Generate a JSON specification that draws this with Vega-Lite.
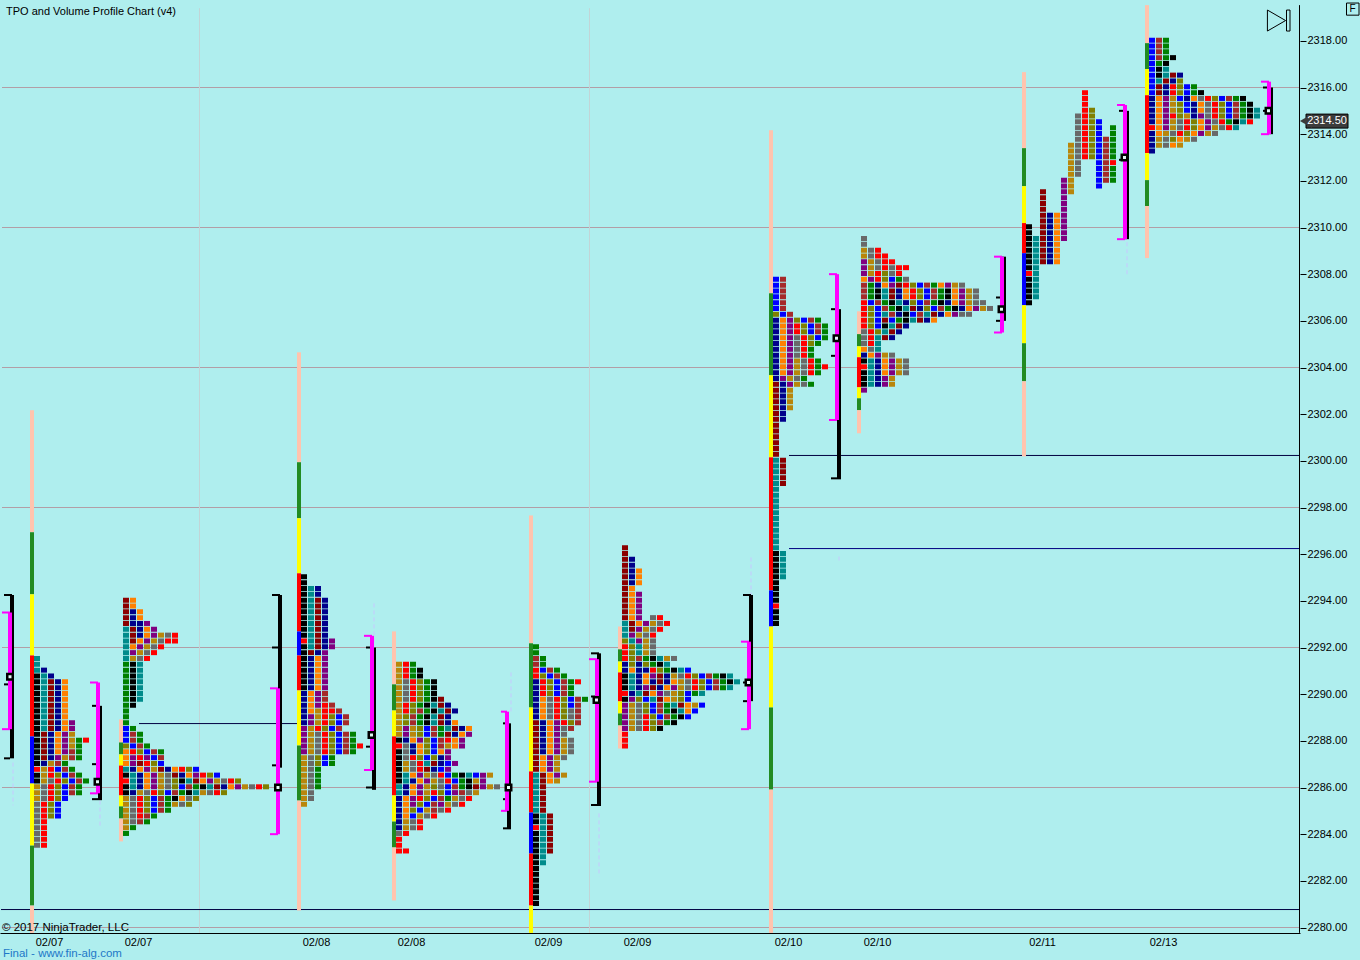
{"$schema":"https://vega.github.io/schema/vega-lite/v6.json","width":1300,"height":933,"padding":{"left":0,"top":0,"right":60,"bottom":27},"autosize":{"type":"none"},"background":"#AFEEEE","config":{"view":{"stroke":null},"font":"Liberation Sans"},
"datasets":{
"grid":[{"x":2,"x2":1299,"y":2316},{"x":2,"x2":1299,"y":2310},{"x":2,"x2":1299,"y":2304},{"x":2,"x2":1299,"y":2298},{"x":2,"x2":1299,"y":2292},{"x":2,"x2":1299,"y":2286},{"x":2,"x2":1299,"y":2280}],
"vgrid":[{"x":199.5,"y":2319.4,"e":2279.77},{"x":589.5,"y":2319.4,"e":2279.77}],
"axisline":[{"x":1299.5,"y":2319.53,"e":2279.77}],
"lines":[{"x":139,"x2":298,"y":2288.74},{"x":789,"x2":1299,"y":2300.23},{"x":1,"x2":1299,"y":2280.77}],
"lines2":[{"x":789,"x2":1299,"y":2296.24}],
"dash":[{"x":13,"y":2287.07,"e":2285.23},{"x":100,"y":2285.44,"e":2284.37},{"x":374,"y":2293.89,"e":2291.96},{"x":511,"y":2290.93,"e":2289.2},{"x":599,"y":2284.89,"e":2282.18},{"x":751,"y":2295.86,"e":2294.23},{"x":839,"y":2295.9,"e":2295.7},{"x":1127,"y":2309.37,"e":2307.87}],
"rails":[
{"x":32,"y":2302.17,"e":2296.94,"c":"s"},{"x":32,"y":2296.94,"e":2294.28,"c":"f"},{"x":32,"y":2294.28,"e":2291.66,"c":"y"},{"x":32,"y":2291.66,"e":2288.19,"c":"r"},{"x":32,"y":2288.19,"e":2286.17,"c":"b"},{"x":32,"y":2286.17,"e":2283.51,"c":"y"},{"x":32,"y":2283.51,"e":2280.94,"c":"f"},{"x":32,"y":2280.94,"e":2279.77,"c":"s"},
{"x":121,"y":2288.92,"e":2287.93,"c":"s"},{"x":121,"y":2287.93,"e":2287.42,"c":"f"},{"x":121,"y":2287.42,"e":2286.94,"c":"y"},{"x":121,"y":2286.94,"e":2285.66,"c":"r"},{"x":121,"y":2285.66,"e":2285.19,"c":"y"},{"x":121,"y":2285.19,"e":2284.67,"c":"f"},{"x":121,"y":2284.67,"e":2283.69,"c":"s"},
{"x":299,"y":2304.65,"e":2299.94,"c":"s"},{"x":299,"y":2299.94,"e":2297.54,"c":"f"},{"x":299,"y":2297.54,"e":2295.18,"c":"y"},{"x":299,"y":2295.18,"e":2292.69,"c":"r"},{"x":299,"y":2292.69,"e":2291.66,"c":"b"},{"x":299,"y":2291.66,"e":2290.16,"c":"r"},{"x":299,"y":2290.16,"e":2287.8,"c":"y"},{"x":299,"y":2287.8,"e":2285.44,"c":"f"},{"x":299,"y":2285.44,"e":2280.73,"c":"s"},
{"x":394,"y":2292.69,"e":2290.42,"c":"s"},{"x":394,"y":2290.42,"e":2289.3,"c":"f"},{"x":394,"y":2289.3,"e":2288.19,"c":"y"},{"x":394,"y":2288.19,"e":2285.66,"c":"r"},{"x":394,"y":2285.66,"e":2284.54,"c":"y"},{"x":394,"y":2284.54,"e":2283.43,"c":"f"},{"x":394,"y":2283.43,"e":2281.16,"c":"s"},
{"x":531,"y":2297.66,"e":2292.18,"c":"s"},{"x":531,"y":2292.18,"e":2289.43,"c":"f"},{"x":531,"y":2289.43,"e":2286.69,"c":"y"},{"x":531,"y":2286.69,"e":2284.93,"c":"r"},{"x":531,"y":2284.93,"e":2283.17,"c":"b"},{"x":531,"y":2283.17,"e":2280.94,"c":"r"},{"x":531,"y":2280.94,"e":2279.77,"c":"y"},
{"x":620,"y":2292.9,"e":2291.92,"c":"s"},{"x":620,"y":2291.92,"e":2291.4,"c":"f"},{"x":620,"y":2291.4,"e":2290.93,"c":"y"},{"x":620,"y":2290.93,"e":2289.69,"c":"r"},{"x":620,"y":2289.69,"e":2289.17,"c":"y"},{"x":620,"y":2289.17,"e":2288.66,"c":"f"},{"x":620,"y":2288.66,"e":2287.67,"c":"s"},
{"x":771,"y":2314.17,"e":2307.18,"c":"s"},{"x":771,"y":2307.18,"e":2303.67,"c":"f"},{"x":771,"y":2303.67,"e":2300.15,"c":"y"},{"x":771,"y":2300.15,"e":2294.45,"c":"r"},{"x":771,"y":2294.45,"e":2292.9,"c":"b"},{"x":771,"y":2292.9,"e":2289.43,"c":"y"},{"x":771,"y":2289.43,"e":2285.91,"c":"f"},{"x":771,"y":2285.91,"e":2279.77,"c":"s"},
{"x":859,"y":2306.41,"e":2305.43,"c":"s"},{"x":859,"y":2305.43,"e":2304.91,"c":"f"},{"x":859,"y":2304.91,"e":2304.44,"c":"y"},{"x":859,"y":2304.44,"e":2303.15,"c":"r"},{"x":859,"y":2303.15,"e":2302.68,"c":"y"},{"x":859,"y":2302.68,"e":2302.17,"c":"f"},{"x":859,"y":2302.17,"e":2301.18,"c":"s"},
{"x":1024,"y":2316.66,"e":2313.4,"c":"s"},{"x":1024,"y":2313.4,"e":2311.77,"c":"f"},{"x":1024,"y":2311.77,"e":2310.19,"c":"y"},{"x":1024,"y":2310.19,"e":2308.9,"c":"r"},{"x":1024,"y":2308.9,"e":2306.67,"c":"b"},{"x":1024,"y":2306.67,"e":2305.04,"c":"y"},{"x":1024,"y":2305.04,"e":2303.41,"c":"f"},{"x":1024,"y":2303.41,"e":2300.19,"c":"s"},
{"x":1147,"y":2319.53,"e":2317.9,"c":"s"},{"x":1147,"y":2317.9,"e":2316.79,"c":"f"},{"x":1147,"y":2316.79,"e":2315.67,"c":"y"},{"x":1147,"y":2315.67,"e":2313.19,"c":"r"},{"x":1147,"y":2313.19,"e":2312.03,"c":"y"},{"x":1147,"y":2312.03,"e":2310.92,"c":"f"},{"x":1147,"y":2310.92,"e":2308.69,"c":"s"}],
"cells":[
{"x":37,"y":2291.5,"e":2291,"c":"t"},{"x":37,"y":2290.75,"e":2287,"c":"k"},{"x":37,"y":2286.75,"e":2286.75,"c":"r"},{"x":37,"y":2286.5,"e":2286.25,"c":"k"},{"x":37,"y":2286,"e":2285.5,"c":"d"},{"x":37,"y":2285.25,"e":2283.5,"c":"a"},
{"x":44,"y":2291,"e":2291,"c":"n"},{"x":44,"y":2290.75,"e":2288.5,"c":"t"},{"x":44,"y":2288.25,"e":2287.25,"c":"m"},{"x":44,"y":2287,"e":2287,"c":"n"},{"x":44,"y":2286.75,"e":2286.25,"c":"d"},{"x":44,"y":2286,"e":2285.5,"c":"a"},{"x":44,"y":2285.25,"e":2283.5,"c":"r"},
{"x":51,"y":2290.75,"e":2290.75,"c":"n"},{"x":51,"y":2290.5,"e":2288.5,"c":"m"},{"x":51,"y":2288.25,"e":2287.25,"c":"n"},{"x":51,"y":2287,"e":2287,"c":"d"},{"x":51,"y":2286.75,"e":2286.5,"c":"r"},{"x":51,"y":2286.25,"e":2286.25,"c":"a"},{"x":51,"y":2286,"e":2285.5,"c":"r"},{"x":51,"y":2285.25,"e":2284.75,"c":"O"},
{"x":58,"y":2290.5,"e":2288.5,"c":"n"},{"x":58,"y":2288.25,"e":2287.5,"c":"o"},{"x":58,"y":2287.25,"e":2287.25,"c":"p"},{"x":58,"y":2287,"e":2287,"c":"B"},{"x":58,"y":2286.75,"e":2286.75,"c":"b"},{"x":58,"y":2286.5,"e":2286.5,"c":"O"},{"x":58,"y":2286.25,"e":2286.25,"c":"r"},{"x":58,"y":2286,"e":2285.5,"c":"O"},{"x":58,"y":2285.25,"e":2284.75,"c":"b"},
{"x":65,"y":2290.5,"e":2288.5,"c":"o"},{"x":65,"y":2288.25,"e":2287.5,"c":"p"},{"x":65,"y":2287.25,"e":2287.25,"c":"d"},{"x":65,"y":2287,"e":2287,"c":"g"},{"x":65,"y":2286.75,"e":2286.75,"c":"B"},{"x":65,"y":2286.5,"e":2286.5,"c":"b"},{"x":65,"y":2286.25,"e":2286.25,"c":"O"},{"x":65,"y":2286,"e":2285.5,"c":"b"},
{"x":72,"y":2288.75,"e":2288.5,"c":"p"},{"x":72,"y":2288.25,"e":2287.75,"c":"d"},{"x":72,"y":2287.5,"e":2287.25,"c":"B"},{"x":72,"y":2286.75,"e":2286.75,"c":"g"},{"x":72,"y":2286.5,"e":2286.5,"c":"B"},{"x":72,"y":2286.25,"e":2286.25,"c":"b"},{"x":72,"y":2286,"e":2285.75,"c":"B"},
{"x":79,"y":2288,"e":2287.25,"c":"g"},{"x":79,"y":2286.5,"e":2286.5,"c":"g"},{"x":79,"y":2286.25,"e":2286.25,"c":"B"},{"x":79,"y":2286,"e":2285.75,"c":"g"},
{"x":86,"y":2288,"e":2288,"c":"r"},{"x":86,"y":2286.25,"e":2286.25,"c":"g"},
{"x":126,"y":2294,"e":2293,"c":"m"},{"x":126,"y":2292.75,"e":2291.5,"c":"t"},{"x":126,"y":2291.25,"e":2288.75,"c":"g"},{"x":126,"y":2288.5,"e":2288,"c":"b"},{"x":126,"y":2287.75,"e":2287.75,"c":"O"},{"x":126,"y":2287.5,"e":2287,"c":"o"},{"x":126,"y":2286.75,"e":2286.75,"c":"t"},{"x":126,"y":2286.5,"e":2286.5,"c":"k"},{"x":126,"y":2286.25,"e":2286.25,"c":"r"},{"x":126,"y":2286,"e":2285.75,"c":"k"},{"x":126,"y":2285.5,"e":2284.25,"c":"d"},{"x":126,"y":2284,"e":2284,"c":"g"},
{"x":133,"y":2294,"e":2293.75,"c":"o"},{"x":133,"y":2293.5,"e":2293,"c":"n"},{"x":133,"y":2292.75,"e":2292.25,"c":"m"},{"x":133,"y":2292,"e":2292,"c":"o"},{"x":133,"y":2291.75,"e":2291.75,"c":"p"},{"x":133,"y":2291.5,"e":2291.5,"c":"d"},{"x":133,"y":2291.25,"e":2289.5,"c":"k"},{"x":133,"y":2288.5,"e":2288.5,"c":"g"},{"x":133,"y":2288.25,"e":2288,"c":"B"},{"x":133,"y":2287.75,"e":2287.75,"c":"b"},{"x":133,"y":2287.5,"e":2287.5,"c":"r"},{"x":133,"y":2287.25,"e":2287,"c":"p"},{"x":133,"y":2286.75,"e":2286.75,"c":"n"},{"x":133,"y":2286.5,"e":2286,"c":"t"},{"x":133,"y":2285.75,"e":2285.75,"c":"n"},{"x":133,"y":2285.5,"e":2284.5,"c":"a"},{"x":133,"y":2284.25,"e":2284.25,"c":"g"},
{"x":140,"y":2293.5,"e":2293.25,"c":"o"},{"x":140,"y":2293,"e":2292.5,"c":"n"},{"x":140,"y":2292.25,"e":2292.25,"c":"o"},{"x":140,"y":2292,"e":2292,"c":"p"},{"x":140,"y":2291.75,"e":2291.75,"c":"d"},{"x":140,"y":2291.5,"e":2291.5,"c":"a"},{"x":140,"y":2291.25,"e":2289.75,"c":"t"},{"x":140,"y":2288.25,"e":2288,"c":"g"},{"x":140,"y":2287.75,"e":2287.75,"c":"B"},{"x":140,"y":2287.5,"e":2287.5,"c":"O"},{"x":140,"y":2287.25,"e":2287.25,"c":"r"},{"x":140,"y":2287,"e":2287,"c":"m"},{"x":140,"y":2286.75,"e":2286.75,"c":"o"},{"x":140,"y":2286.5,"e":2286,"c":"n"},{"x":140,"y":2285.75,"e":2285.75,"c":"d"},{"x":140,"y":2285.5,"e":2284.75,"c":"r"},{"x":140,"y":2284.5,"e":2284.5,"c":"B"},
{"x":147,"y":2293,"e":2293,"c":"p"},{"x":147,"y":2292.75,"e":2292.5,"c":"o"},{"x":147,"y":2292.25,"e":2292.25,"c":"p"},{"x":147,"y":2292,"e":2292,"c":"d"},{"x":147,"y":2291.75,"e":2291.75,"c":"a"},{"x":147,"y":2291.5,"e":2291.5,"c":"r"},{"x":147,"y":2287.75,"e":2287.75,"c":"g"},{"x":147,"y":2287.5,"e":2287.5,"c":"b"},{"x":147,"y":2287.25,"e":2287.25,"c":"p"},{"x":147,"y":2287,"e":2287,"c":"r"},{"x":147,"y":2286.75,"e":2286.75,"c":"p"},{"x":147,"y":2286.5,"e":2286,"c":"o"},{"x":147,"y":2285.75,"e":2285.75,"c":"a"},{"x":147,"y":2285.5,"e":2285,"c":"O"},{"x":147,"y":2284.75,"e":2284.75,"c":"B"},{"x":147,"y":2284.5,"e":2284.5,"c":"g"},
{"x":154,"y":2292.75,"e":2292.5,"c":"p"},{"x":154,"y":2292.25,"e":2292.25,"c":"d"},{"x":154,"y":2292,"e":2292,"c":"a"},{"x":154,"y":2291.75,"e":2291.75,"c":"r"},{"x":154,"y":2287.5,"e":2287.5,"c":"B"},{"x":154,"y":2287.25,"e":2287.25,"c":"b"},{"x":154,"y":2287,"e":2287,"c":"O"},{"x":154,"y":2286.75,"e":2286.75,"c":"d"},{"x":154,"y":2286.5,"e":2286,"c":"p"},{"x":154,"y":2285.75,"e":2285.75,"c":"r"},{"x":154,"y":2285.5,"e":2285,"c":"b"},{"x":154,"y":2284.75,"e":2284.75,"c":"g"},
{"x":161,"y":2292.5,"e":2292.5,"c":"d"},{"x":161,"y":2292.25,"e":2292.25,"c":"a"},{"x":161,"y":2292,"e":2292,"c":"r"},{"x":161,"y":2287.5,"e":2287.5,"c":"g"},{"x":161,"y":2287.25,"e":2287.25,"c":"B"},{"x":161,"y":2287,"e":2287,"c":"b"},{"x":161,"y":2286.75,"e":2286.75,"c":"m"},{"x":161,"y":2286.5,"e":2286,"c":"d"},{"x":161,"y":2285.75,"e":2285.75,"c":"O"},{"x":161,"y":2285.5,"e":2285,"c":"B"},
{"x":168,"y":2292.5,"e":2292.5,"c":"a"},{"x":168,"y":2292.25,"e":2292.25,"c":"r"},{"x":168,"y":2286.75,"e":2286.75,"c":"n"},{"x":168,"y":2286.5,"e":2286,"c":"a"},{"x":168,"y":2285.75,"e":2285.75,"c":"b"},{"x":168,"y":2285.5,"e":2285,"c":"g"},
{"x":175,"y":2292.5,"e":2292.25,"c":"r"},{"x":175,"y":2286.75,"e":2286.75,"c":"o"},{"x":175,"y":2286.5,"e":2286.5,"c":"m"},{"x":175,"y":2286.25,"e":2286,"c":"O"},{"x":175,"y":2285.75,"e":2285.75,"c":"B"},{"x":175,"y":2285.5,"e":2285.5,"c":"k"},{"x":175,"y":2285.25,"e":2285.25,"c":"d"},
{"x":182,"y":2286.75,"e":2286.75,"c":"r"},{"x":182,"y":2286.5,"e":2286.5,"c":"n"},{"x":182,"y":2286.25,"e":2286.25,"c":"k"},{"x":182,"y":2286,"e":2286,"c":"b"},{"x":182,"y":2285.75,"e":2285.75,"c":"g"},{"x":182,"y":2285.5,"e":2285.5,"c":"o"},{"x":182,"y":2285.25,"e":2285.25,"c":"a"},
{"x":189,"y":2286.75,"e":2286.75,"c":"O"},{"x":189,"y":2286.5,"e":2286.5,"c":"o"},{"x":189,"y":2286.25,"e":2286.25,"c":"t"},{"x":189,"y":2286,"e":2286,"c":"B"},{"x":189,"y":2285.75,"e":2285.75,"c":"k"},{"x":189,"y":2285.5,"e":2285.5,"c":"a"},{"x":189,"y":2285.25,"e":2285.25,"c":"O"},
{"x":196,"y":2286.75,"e":2286.75,"c":"b"},{"x":196,"y":2286.5,"e":2286.5,"c":"p"},{"x":196,"y":2286.25,"e":2286.25,"c":"m"},{"x":196,"y":2286,"e":2286,"c":"g"},{"x":196,"y":2285.75,"e":2285.75,"c":"t"},{"x":196,"y":2285.5,"e":2285.5,"c":"O"},
{"x":203,"y":2286.5,"e":2286.5,"c":"r"},{"x":203,"y":2286.25,"e":2286.25,"c":"o"},{"x":203,"y":2286,"e":2286,"c":"k"},{"x":203,"y":2285.75,"e":2285.75,"c":"d"},
{"x":210,"y":2286.5,"e":2286.5,"c":"O"},{"x":210,"y":2286.25,"e":2286.25,"c":"p"},{"x":210,"y":2286,"e":2286,"c":"t"},{"x":210,"y":2285.75,"e":2285.75,"c":"a"},
{"x":217,"y":2286.5,"e":2286.5,"c":"b"},{"x":217,"y":2286.25,"e":2286.25,"c":"d"},{"x":217,"y":2286,"e":2286,"c":"m"},{"x":217,"y":2285.75,"e":2285.75,"c":"r"},
{"x":224,"y":2286.25,"e":2286.25,"c":"a"},{"x":224,"y":2286,"e":2286,"c":"n"},{"x":224,"y":2285.75,"e":2285.75,"c":"O"},
{"x":231,"y":2286.25,"e":2286.25,"c":"r"},{"x":231,"y":2286,"e":2286,"c":"o"},{"x":238,"y":2286.25,"e":2286.25,"c":"O"},{"x":238,"y":2286,"e":2286,"c":"p"},{"x":245,"y":2286,"e":2286,"c":"d"},{"x":252,"y":2286,"e":2286,"c":"a"},{"x":259,"y":2286,"e":2286,"c":"r"},{"x":266,"y":2286,"e":2286,"c":"O"},
{"x":304,"y":2295,"e":2292.5,"c":"k"},{"x":304,"y":2292.25,"e":2292.25,"c":"r"},{"x":304,"y":2292,"e":2290.25,"c":"k"},{"x":304,"y":2290,"e":2288.75,"c":"n"},{"x":304,"y":2288.5,"e":2287.5,"c":"p"},{"x":304,"y":2287.25,"e":2285.25,"c":"d"},
{"x":311,"y":2294.5,"e":2292,"c":"t"},{"x":311,"y":2291.75,"e":2291.75,"c":"m"},{"x":311,"y":2291.5,"e":2290.25,"c":"n"},{"x":311,"y":2290,"e":2289.25,"c":"o"},{"x":311,"y":2289,"e":2288.75,"c":"p"},{"x":311,"y":2288.5,"e":2287.5,"c":"d"},{"x":311,"y":2287.25,"e":2285.5,"c":"a"},
{"x":318,"y":2294.5,"e":2294.25,"c":"n"},{"x":318,"y":2294,"e":2292,"c":"m"},{"x":318,"y":2291.75,"e":2291.75,"c":"n"},{"x":318,"y":2291.5,"e":2290.25,"c":"o"},{"x":318,"y":2290,"e":2289.5,"c":"p"},{"x":318,"y":2289.25,"e":2288.75,"c":"d"},{"x":318,"y":2288.5,"e":2288.5,"c":"r"},{"x":318,"y":2288.25,"e":2287.5,"c":"a"},{"x":318,"y":2287.25,"e":2287,"c":"O"},{"x":318,"y":2286.75,"e":2286,"c":"g"},
{"x":325,"y":2294,"e":2292,"c":"n"},{"x":325,"y":2291.75,"e":2290.25,"c":"p"},{"x":325,"y":2290,"e":2289.75,"c":"B"},{"x":325,"y":2289.5,"e":2288.75,"c":"r"},{"x":325,"y":2288.5,"e":2288.5,"c":"O"},{"x":325,"y":2288.25,"e":2287.5,"c":"r"},{"x":325,"y":2287.25,"e":2287,"c":"b"},
{"x":332,"y":2292.25,"e":2292,"c":"p"},{"x":332,"y":2289.5,"e":2289.5,"c":"B"},{"x":332,"y":2289.25,"e":2289.25,"c":"r"},{"x":332,"y":2289,"e":2288.75,"c":"O"},{"x":332,"y":2288.5,"e":2288.5,"c":"b"},{"x":332,"y":2288.25,"e":2287.5,"c":"O"},{"x":332,"y":2287.25,"e":2287,"c":"g"},
{"x":339,"y":2289.25,"e":2289.25,"c":"B"},{"x":339,"y":2289,"e":2288.75,"c":"b"},{"x":339,"y":2288.5,"e":2288.5,"c":"B"},{"x":339,"y":2288.25,"e":2287.5,"c":"b"},
{"x":346,"y":2289,"e":2288.75,"c":"B"},{"x":346,"y":2288.25,"e":2287.5,"c":"B"},{"x":353,"y":2288.25,"e":2287.5,"c":"g"},{"x":360,"y":2287.75,"e":2287.75,"c":"r"},
{"x":399,"y":2291.25,"e":2288.25,"c":"d"},{"x":399,"y":2288,"e":2288,"c":"k"},{"x":399,"y":2287.75,"e":2287.75,"c":"r"},{"x":399,"y":2287.5,"e":2286.25,"c":"k"},{"x":399,"y":2286,"e":2285.75,"c":"t"},{"x":399,"y":2285.5,"e":2284.25,"c":"n"},{"x":399,"y":2284,"e":2284,"c":"a"},{"x":399,"y":2283.75,"e":2283.25,"c":"r"},
{"x":406,"y":2291.25,"e":2290.75,"c":"r"},{"x":406,"y":2290.5,"e":2289.75,"c":"a"},{"x":406,"y":2289.5,"e":2289.25,"c":"r"},{"x":406,"y":2289,"e":2288.75,"c":"O"},{"x":406,"y":2288.5,"e":2288.25,"c":"p"},{"x":406,"y":2288,"e":2288,"c":"n"},{"x":406,"y":2287.75,"e":2287.25,"c":"a"},{"x":406,"y":2287,"e":2286.75,"c":"d"},{"x":406,"y":2286.5,"e":2286.25,"c":"t"},{"x":406,"y":2286,"e":2285.75,"c":"n"},{"x":406,"y":2285.5,"e":2284.75,"c":"o"},{"x":406,"y":2284.5,"e":2284.25,"c":"d"},{"x":406,"y":2284,"e":2284,"c":"r"},{"x":406,"y":2283.25,"e":2283.25,"c":"r"},
{"x":413,"y":2291.25,"e":2290.75,"c":"g"},{"x":413,"y":2290.5,"e":2289.75,"c":"r"},{"x":413,"y":2289.5,"e":2289.25,"c":"O"},{"x":413,"y":2289,"e":2288.75,"c":"B"},{"x":413,"y":2288.5,"e":2288.25,"c":"d"},{"x":413,"y":2288,"e":2288,"c":"o"},{"x":413,"y":2287.75,"e":2287.5,"c":"n"},{"x":413,"y":2287.25,"e":2287.25,"c":"r"},{"x":413,"y":2287,"e":2286.75,"c":"a"},{"x":413,"y":2286.5,"e":2286.5,"c":"o"},{"x":413,"y":2286.25,"e":2286.25,"c":"n"},{"x":413,"y":2286,"e":2285.75,"c":"o"},{"x":413,"y":2285.5,"e":2285.25,"c":"p"},{"x":413,"y":2285,"e":2285,"c":"O"},{"x":413,"y":2284.75,"e":2284.75,"c":"b"},{"x":413,"y":2284.5,"e":2284.25,"c":"a"},
{"x":420,"y":2291,"e":2290.75,"c":"k"},{"x":420,"y":2290.5,"e":2289.75,"c":"O"},{"x":420,"y":2289.5,"e":2289.5,"c":"g"},{"x":420,"y":2289.25,"e":2289.25,"c":"B"},{"x":420,"y":2289,"e":2288.75,"c":"g"},{"x":420,"y":2288.5,"e":2288.25,"c":"O"},{"x":420,"y":2288,"e":2288,"c":"p"},{"x":420,"y":2287.75,"e":2287.5,"c":"o"},{"x":420,"y":2287.25,"e":2287.25,"c":"O"},{"x":420,"y":2287,"e":2286.75,"c":"r"},{"x":420,"y":2286.5,"e":2286.5,"c":"p"},{"x":420,"y":2286.25,"e":2286.25,"c":"o"},{"x":420,"y":2286,"e":2285.75,"c":"p"},{"x":420,"y":2285.5,"e":2285.5,"c":"r"},{"x":420,"y":2285.25,"e":2285.25,"c":"O"},{"x":420,"y":2285,"e":2285,"c":"b"},{"x":420,"y":2284.75,"e":2284.75,"c":"d"},{"x":420,"y":2284.5,"e":2284.25,"c":"r"},
{"x":427,"y":2290.5,"e":2289.75,"c":"g"},{"x":427,"y":2289.5,"e":2289.5,"c":"k"},{"x":427,"y":2289.25,"e":2289.25,"c":"g"},{"x":427,"y":2289,"e":2288.75,"c":"k"},{"x":427,"y":2288.5,"e":2288.25,"c":"b"},{"x":427,"y":2288,"e":2287.5,"c":"O"},{"x":427,"y":2287.25,"e":2287.25,"c":"b"},{"x":427,"y":2287,"e":2287,"c":"t"},{"x":427,"y":2286.75,"e":2286.75,"c":"m"},{"x":427,"y":2286.5,"e":2286.5,"c":"d"},{"x":427,"y":2286.25,"e":2286.25,"c":"p"},{"x":427,"y":2286,"e":2285.75,"c":"d"},{"x":427,"y":2285.5,"e":2285.5,"c":"O"},{"x":427,"y":2285.25,"e":2285.25,"c":"b"},{"x":427,"y":2285,"e":2285,"c":"d"},{"x":427,"y":2284.75,"e":2284.75,"c":"a"},
{"x":434,"y":2290.5,"e":2289.75,"c":"k"},{"x":434,"y":2289.5,"e":2289.5,"c":"t"},{"x":434,"y":2289.25,"e":2289.25,"c":"k"},{"x":434,"y":2289,"e":2288.75,"c":"t"},{"x":434,"y":2288.5,"e":2288.25,"c":"B"},{"x":434,"y":2288,"e":2287.5,"c":"b"},{"x":434,"y":2287.25,"e":2287.25,"c":"O"},{"x":434,"y":2287,"e":2287,"c":"m"},{"x":434,"y":2286.75,"e":2286.75,"c":"n"},{"x":434,"y":2286.5,"e":2286.5,"c":"a"},{"x":434,"y":2286.25,"e":2286.25,"c":"d"},{"x":434,"y":2286,"e":2286,"c":"O"},{"x":434,"y":2285.75,"e":2285.75,"c":"r"},{"x":434,"y":2285.5,"e":2285.5,"c":"b"},{"x":434,"y":2285.25,"e":2285,"c":"B"},{"x":434,"y":2284.75,"e":2284.75,"c":"r"},
{"x":441,"y":2289.75,"e":2289.5,"c":"m"},{"x":441,"y":2289.25,"e":2289.25,"c":"t"},{"x":441,"y":2289,"e":2288.75,"c":"m"},{"x":441,"y":2288.5,"e":2288.25,"c":"g"},{"x":441,"y":2288,"e":2287.75,"c":"B"},{"x":441,"y":2287.5,"e":2287.5,"c":"o"},{"x":441,"y":2287.25,"e":2287,"c":"n"},{"x":441,"y":2286.75,"e":2286.75,"c":"b"},{"x":441,"y":2286.5,"e":2286.5,"c":"r"},{"x":441,"y":2286.25,"e":2286,"c":"a"},{"x":441,"y":2285.75,"e":2285.75,"c":"O"},{"x":441,"y":2285.5,"e":2285.5,"c":"B"},{"x":441,"y":2285.25,"e":2285.25,"c":"p"},{"x":441,"y":2285,"e":2285,"c":"a"},
{"x":448,"y":2289.5,"e":2289.5,"c":"n"},{"x":448,"y":2289.25,"e":2289.25,"c":"m"},{"x":448,"y":2289,"e":2288.75,"c":"n"},{"x":448,"y":2288.5,"e":2288.5,"c":"t"},{"x":448,"y":2288.25,"e":2288.25,"c":"m"},{"x":448,"y":2288,"e":2288,"c":"r"},{"x":448,"y":2287.75,"e":2287.75,"c":"d"},{"x":448,"y":2287.5,"e":2287.25,"c":"p"},{"x":448,"y":2287,"e":2287,"c":"b"},{"x":448,"y":2286.75,"e":2286.75,"c":"p"},{"x":448,"y":2286.5,"e":2286.5,"c":"b"},{"x":448,"y":2286.25,"e":2286.25,"c":"r"},{"x":448,"y":2286,"e":2285.75,"c":"b"},{"x":448,"y":2285.5,"e":2285.5,"c":"g"},{"x":448,"y":2285.25,"e":2285.25,"c":"d"},{"x":448,"y":2285,"e":2285,"c":"r"},
{"x":455,"y":2289.25,"e":2289.25,"c":"n"},{"x":455,"y":2288.75,"e":2288.75,"c":"o"},{"x":455,"y":2288.5,"e":2288.5,"c":"m"},{"x":455,"y":2288.25,"e":2288.25,"c":"n"},{"x":455,"y":2288,"e":2287.75,"c":"o"},{"x":455,"y":2287,"e":2287,"c":"p"},{"x":455,"y":2286.5,"e":2286.5,"c":"g"},{"x":455,"y":2286.25,"e":2286.25,"c":"b"},{"x":455,"y":2286,"e":2286,"c":"B"},{"x":455,"y":2285.75,"e":2285.75,"c":"p"},{"x":455,"y":2285.5,"e":2285.5,"c":"d"},{"x":455,"y":2285.25,"e":2285.25,"c":"a"},
{"x":462,"y":2288.5,"e":2288.5,"c":"n"},{"x":462,"y":2288.25,"e":2288.25,"c":"o"},{"x":462,"y":2288,"e":2287.75,"c":"p"},{"x":462,"y":2286.5,"e":2286.5,"c":"k"},{"x":462,"y":2286.25,"e":2286,"c":"g"},{"x":462,"y":2285.75,"e":2285.75,"c":"B"},{"x":462,"y":2285.5,"e":2285.5,"c":"a"},{"x":462,"y":2285.25,"e":2285.25,"c":"r"},
{"x":469,"y":2288.5,"e":2288.5,"c":"o"},{"x":469,"y":2288.25,"e":2288.25,"c":"p"},{"x":469,"y":2286.5,"e":2286.5,"c":"t"},{"x":469,"y":2286.25,"e":2286,"c":"k"},{"x":469,"y":2285.75,"e":2285.75,"c":"a"},{"x":469,"y":2285.5,"e":2285.5,"c":"r"},
{"x":476,"y":2286.5,"e":2286.5,"c":"b"},{"x":476,"y":2286.25,"e":2286.25,"c":"d"},{"x":476,"y":2286,"e":2286,"c":"m"},{"x":476,"y":2285.75,"e":2285.75,"c":"d"},
{"x":483,"y":2286.5,"e":2286,"c":"p"},{"x":490,"y":2286.5,"e":2286.5,"c":"d"},{"x":490,"y":2286,"e":2286,"c":"d"},{"x":497,"y":2286,"e":2286,"c":"a"},
{"x":536,"y":2292,"e":2291.75,"c":"g"},{"x":536,"y":2291.5,"e":2291.25,"c":"B"},{"x":536,"y":2291,"e":2290.75,"c":"r"},{"x":536,"y":2290.5,"e":2289,"c":"n"},{"x":536,"y":2288.75,"e":2286.75,"c":"m"},{"x":536,"y":2286.5,"e":2285,"c":"t"},{"x":536,"y":2284.75,"e":2284.5,"c":"k"},{"x":536,"y":2284.25,"e":2284.25,"c":"r"},{"x":536,"y":2284,"e":2281,"c":"k"},
{"x":543,"y":2291.5,"e":2291.25,"c":"g"},{"x":543,"y":2291,"e":2291,"c":"b"},{"x":543,"y":2290.75,"e":2290.75,"c":"O"},{"x":543,"y":2290.5,"e":2290,"c":"r"},{"x":543,"y":2289.75,"e":2289,"c":"o"},{"x":543,"y":2288.75,"e":2287.5,"c":"n"},{"x":543,"y":2287.25,"e":2286.75,"c":"o"},{"x":543,"y":2286.5,"e":2285,"c":"m"},{"x":543,"y":2284.75,"e":2282.75,"c":"t"},
{"x":550,"y":2291,"e":2291,"c":"B"},{"x":550,"y":2290.75,"e":2290.75,"c":"b"},{"x":550,"y":2290.5,"e":2290,"c":"O"},{"x":550,"y":2289.75,"e":2289,"c":"a"},{"x":550,"y":2288.75,"e":2287.5,"c":"o"},{"x":550,"y":2287.25,"e":2286.75,"c":"p"},{"x":550,"y":2286.5,"e":2286.25,"c":"o"},{"x":550,"y":2284.75,"e":2283.25,"c":"m"},
{"x":557,"y":2291,"e":2291,"c":"g"},{"x":557,"y":2290.75,"e":2290.75,"c":"B"},{"x":557,"y":2290.5,"e":2290,"c":"b"},{"x":557,"y":2289.75,"e":2289,"c":"r"},{"x":557,"y":2288.75,"e":2287.5,"c":"p"},{"x":557,"y":2287.25,"e":2286.75,"c":"d"},{"x":557,"y":2286.5,"e":2286.5,"c":"p"},{"x":557,"y":2286.25,"e":2286.25,"c":"d"},
{"x":564,"y":2290.75,"e":2290.75,"c":"g"},{"x":564,"y":2290.5,"e":2290,"c":"B"},{"x":564,"y":2289.75,"e":2289,"c":"O"},{"x":564,"y":2288.75,"e":2288.75,"c":"r"},{"x":564,"y":2288.5,"e":2288.25,"c":"a"},{"x":564,"y":2288,"e":2287.5,"c":"d"},{"x":564,"y":2287.25,"e":2287.25,"c":"a"},{"x":564,"y":2286.5,"e":2286.5,"c":"d"},
{"x":571,"y":2290.5,"e":2290,"c":"g"},{"x":571,"y":2289.75,"e":2289.5,"c":"b"},{"x":571,"y":2289.25,"e":2289,"c":"a"},{"x":571,"y":2288.75,"e":2288.75,"c":"O"},{"x":571,"y":2288.5,"e":2288.5,"c":"B"},{"x":571,"y":2288,"e":2287.5,"c":"a"},
{"x":578,"y":2290.5,"e":2290.5,"c":"r"},{"x":578,"y":2289.75,"e":2288.75,"c":"B"},{"x":585,"y":2289.75,"e":2289.75,"c":"g"},
{"x":625,"y":2296.25,"e":2293.25,"c":"m"},{"x":625,"y":2293,"e":2292.5,"c":"t"},{"x":625,"y":2292.25,"e":2292.25,"c":"O"},{"x":625,"y":2292,"e":2291.5,"c":"r"},{"x":625,"y":2291.25,"e":2291,"c":"n"},{"x":625,"y":2290.75,"e":2290.25,"c":"k"},{"x":625,"y":2290,"e":2290,"c":"r"},{"x":625,"y":2289.75,"e":2289.75,"c":"k"},{"x":625,"y":2289.5,"e":2288.5,"c":"p"},{"x":625,"y":2288.25,"e":2287.75,"c":"r"},
{"x":632,"y":2295.75,"e":2294.75,"c":"n"},{"x":632,"y":2294.5,"e":2293.25,"c":"o"},{"x":632,"y":2293,"e":2292.75,"c":"m"},{"x":632,"y":2292.5,"e":2292.5,"c":"p"},{"x":632,"y":2292.25,"e":2292.25,"c":"t"},{"x":632,"y":2292,"e":2291.25,"c":"O"},{"x":632,"y":2291,"e":2291,"c":"o"},{"x":632,"y":2290.75,"e":2290.25,"c":"t"},{"x":632,"y":2290,"e":2290,"c":"n"},{"x":632,"y":2289.75,"e":2289.75,"c":"p"},{"x":632,"y":2289.5,"e":2288.5,"c":"d"},
{"x":639,"y":2295.25,"e":2294.75,"c":"o"},{"x":639,"y":2294.25,"e":2293.25,"c":"p"},{"x":639,"y":2293,"e":2293,"c":"o"},{"x":639,"y":2292.75,"e":2292.75,"c":"p"},{"x":639,"y":2292.5,"e":2292.5,"c":"d"},{"x":639,"y":2292.25,"e":2292.25,"c":"p"},{"x":639,"y":2292,"e":2291.75,"c":"t"},{"x":639,"y":2291.5,"e":2291.5,"c":"B"},{"x":639,"y":2291.25,"e":2290.25,"c":"n"},{"x":639,"y":2290,"e":2290,"c":"t"},{"x":639,"y":2289.75,"e":2289.75,"c":"O"},{"x":639,"y":2289.5,"e":2288.5,"c":"a"},
{"x":646,"y":2293,"e":2293,"c":"p"},{"x":646,"y":2292.75,"e":2292.75,"c":"d"},{"x":646,"y":2292.5,"e":2292.5,"c":"a"},{"x":646,"y":2292.25,"e":2291.75,"c":"d"},{"x":646,"y":2291.5,"e":2291.5,"c":"g"},{"x":646,"y":2291.25,"e":2291.25,"c":"O"},{"x":646,"y":2291,"e":2291,"c":"n"},{"x":646,"y":2290.75,"e":2290.5,"c":"o"},{"x":646,"y":2290.25,"e":2290.25,"c":"p"},{"x":646,"y":2290,"e":2290,"c":"m"},{"x":646,"y":2289.75,"e":2289.75,"c":"b"},{"x":646,"y":2289.5,"e":2289.25,"c":"O"},{"x":646,"y":2289,"e":2288.5,"c":"r"},
{"x":653,"y":2293.25,"e":2293.25,"c":"a"},{"x":653,"y":2293,"e":2293,"c":"d"},{"x":653,"y":2292.75,"e":2292.75,"c":"a"},{"x":653,"y":2292.5,"e":2292.5,"c":"r"},{"x":653,"y":2292.25,"e":2291.75,"c":"a"},{"x":653,"y":2291.5,"e":2291.5,"c":"k"},{"x":653,"y":2291.25,"e":2291.25,"c":"g"},{"x":653,"y":2291,"e":2291,"c":"r"},{"x":653,"y":2290.75,"e":2290.75,"c":"p"},{"x":653,"y":2290.5,"e":2290.5,"c":"n"},{"x":653,"y":2290.25,"e":2290.25,"c":"m"},{"x":653,"y":2290,"e":2290,"c":"o"},{"x":653,"y":2289.75,"e":2289.75,"c":"t"},{"x":653,"y":2289.5,"e":2289.25,"c":"b"},{"x":653,"y":2289,"e":2288.5,"c":"O"},
{"x":660,"y":2293.25,"e":2293.25,"c":"r"},{"x":660,"y":2293,"e":2293,"c":"a"},{"x":660,"y":2292.75,"e":2292.75,"c":"r"},{"x":660,"y":2291.5,"e":2291.5,"c":"t"},{"x":660,"y":2291.25,"e":2291.25,"c":"k"},{"x":660,"y":2291,"e":2291,"c":"O"},{"x":660,"y":2290.75,"e":2290.5,"c":"m"},{"x":660,"y":2290.25,"e":2290.25,"c":"n"},{"x":660,"y":2290,"e":2290,"c":"p"},{"x":660,"y":2289.75,"e":2289.75,"c":"m"},{"x":660,"y":2289.5,"e":2289.25,"c":"B"},{"x":660,"y":2289,"e":2289,"c":"b"},{"x":660,"y":2288.75,"e":2288.75,"c":"B"},{"x":660,"y":2288.5,"e":2288.5,"c":"k"},
{"x":667,"y":2293,"e":2293,"c":"r"},{"x":667,"y":2291.5,"e":2291.5,"c":"d"},{"x":667,"y":2291.25,"e":2291.25,"c":"t"},{"x":667,"y":2291,"e":2291,"c":"g"},{"x":667,"y":2290.75,"e":2290.5,"c":"n"},{"x":667,"y":2290.25,"e":2290.25,"c":"o"},{"x":667,"y":2290,"e":2290,"c":"a"},{"x":667,"y":2289.75,"e":2289.75,"c":"o"},{"x":667,"y":2289.5,"e":2289.25,"c":"g"},{"x":667,"y":2289,"e":2289,"c":"B"},{"x":667,"y":2288.75,"e":2288.75,"c":"g"},
{"x":674,"y":2291.5,"e":2291.5,"c":"a"},{"x":674,"y":2291,"e":2291,"c":"k"},{"x":674,"y":2290.75,"e":2290.75,"c":"d"},{"x":674,"y":2290.5,"e":2290.5,"c":"o"},{"x":674,"y":2290.25,"e":2290.25,"c":"p"},{"x":674,"y":2290,"e":2289.75,"c":"d"},{"x":674,"y":2289.5,"e":2289.5,"c":"t"},{"x":674,"y":2289.25,"e":2289.25,"c":"k"},{"x":674,"y":2289,"e":2289,"c":"g"},{"x":674,"y":2288.75,"e":2288.75,"c":"k"},
{"x":681,"y":2291,"e":2291,"c":"t"},{"x":681,"y":2290.75,"e":2290.75,"c":"a"},{"x":681,"y":2290.5,"e":2290.25,"c":"d"},{"x":681,"y":2290,"e":2289.75,"c":"O"},{"x":681,"y":2289.5,"e":2289.5,"c":"m"},{"x":681,"y":2289.25,"e":2289.25,"c":"t"},{"x":681,"y":2289,"e":2289,"c":"k"},
{"x":688,"y":2291,"e":2291,"c":"b"},{"x":688,"y":2290.75,"e":2290.75,"c":"r"},{"x":688,"y":2290.5,"e":2290.25,"c":"a"},{"x":688,"y":2290,"e":2289.75,"c":"b"},{"x":688,"y":2289.5,"e":2289.25,"c":"o"},{"x":688,"y":2289,"e":2289,"c":"b"},
{"x":695,"y":2290.75,"e":2290.75,"c":"O"},{"x":695,"y":2290.5,"e":2290.25,"c":"r"},{"x":695,"y":2290,"e":2290,"c":"g"},{"x":695,"y":2289.5,"e":2289.5,"c":"d"},{"x":695,"y":2289.25,"e":2289.25,"c":"b"},
{"x":702,"y":2290.75,"e":2290.75,"c":"b"},{"x":702,"y":2290.5,"e":2290.25,"c":"O"},{"x":702,"y":2290,"e":2290,"c":"t"},{"x":702,"y":2289.5,"e":2289.5,"c":"b"},
{"x":709,"y":2290.75,"e":2290.75,"c":"B"},{"x":709,"y":2290.5,"e":2290.25,"c":"b"},{"x":716,"y":2290.75,"e":2290.75,"c":"g"},{"x":716,"y":2290.5,"e":2290.25,"c":"B"},{"x":723,"y":2290.75,"e":2290.75,"c":"k"},{"x":723,"y":2290.5,"e":2290.25,"c":"g"},{"x":730,"y":2290.75,"e":2290.75,"c":"t"},{"x":730,"y":2290.5,"e":2290.5,"c":"k"},{"x":730,"y":2290.25,"e":2290.25,"c":"t"},{"x":737,"y":2290.5,"e":2290.5,"c":"t"},
{"x":776,"y":2307.75,"e":2306.5,"c":"b"},{"x":776,"y":2306.25,"e":2306.25,"c":"O"},{"x":776,"y":2306,"e":2303.5,"c":"n"},{"x":776,"y":2303.25,"e":2300.25,"c":"m"},{"x":776,"y":2300,"e":2296.25,"c":"t"},{"x":776,"y":2296,"e":2294,"c":"k"},{"x":776,"y":2293.75,"e":2293.75,"c":"r"},{"x":776,"y":2293.5,"e":2293,"c":"k"},
{"x":783,"y":2307.75,"e":2306.5,"c":"B"},{"x":783,"y":2306.25,"e":2306.25,"c":"b"},{"x":783,"y":2306,"e":2303.75,"c":"o"},{"x":783,"y":2303.5,"e":2303.5,"c":"p"},{"x":783,"y":2303.25,"e":2301.75,"c":"n"},{"x":783,"y":2300,"e":2299,"c":"m"},{"x":783,"y":2296,"e":2295,"c":"t"},
{"x":790,"y":2306.25,"e":2306.25,"c":"B"},{"x":790,"y":2306,"e":2303.75,"c":"p"},{"x":790,"y":2303.5,"e":2303.5,"c":"d"},{"x":790,"y":2303.25,"e":2303.25,"c":"p"},{"x":790,"y":2303,"e":2302.25,"c":"d"},
{"x":797,"y":2306,"e":2306,"c":"O"},{"x":797,"y":2305.75,"e":2305.5,"c":"r"},{"x":797,"y":2305.25,"e":2304.5,"c":"a"},{"x":797,"y":2304.25,"e":2303.75,"c":"d"},{"x":797,"y":2303.5,"e":2303.5,"c":"a"},{"x":797,"y":2303.25,"e":2303.25,"c":"d"},
{"x":804,"y":2306,"e":2306,"c":"b"},{"x":804,"y":2305.75,"e":2305.5,"c":"O"},{"x":804,"y":2305.25,"e":2304.5,"c":"r"},{"x":804,"y":2304.25,"e":2303.75,"c":"a"},{"x":804,"y":2303.5,"e":2303.5,"c":"g"},{"x":804,"y":2303.25,"e":2303.25,"c":"a"},
{"x":811,"y":2306,"e":2306,"c":"B"},{"x":811,"y":2305.75,"e":2305.5,"c":"b"},{"x":811,"y":2305.25,"e":2305,"c":"O"},{"x":811,"y":2304.75,"e":2304.5,"c":"g"},{"x":811,"y":2304.25,"e":2303.75,"c":"r"},{"x":811,"y":2303.25,"e":2303.25,"c":"g"},
{"x":818,"y":2306,"e":2306,"c":"g"},{"x":818,"y":2305.75,"e":2305.5,"c":"B"},{"x":818,"y":2305.25,"e":2305.25,"c":"b"},{"x":818,"y":2305,"e":2305,"c":"g"},{"x":818,"y":2304.25,"e":2303.75,"c":"g"},
{"x":825,"y":2305.75,"e":2305.25,"c":"g"},{"x":825,"y":2304,"e":2304,"c":"r"},
{"x":864,"y":2309.5,"e":2309.25,"c":"a"},{"x":864,"y":2309,"e":2308.75,"c":"d"},{"x":864,"y":2308.5,"e":2308,"c":"p"},{"x":864,"y":2307.75,"e":2307.75,"c":"o"},{"x":864,"y":2307.5,"e":2307,"c":"B"},{"x":864,"y":2306.75,"e":2305.75,"c":"r"},{"x":864,"y":2305.5,"e":2305,"c":"a"},{"x":864,"y":2304.75,"e":2304.75,"c":"o"},{"x":864,"y":2304.5,"e":2304.5,"c":"n"},{"x":864,"y":2304.25,"e":2304.25,"c":"k"},{"x":864,"y":2304,"e":2304,"c":"r"},{"x":864,"y":2303.75,"e":2303.25,"c":"k"},{"x":864,"y":2303,"e":2303,"c":"p"},
{"x":871,"y":2309,"e":2308.75,"c":"a"},{"x":871,"y":2308.5,"e":2308,"c":"d"},{"x":871,"y":2307.75,"e":2307.75,"c":"p"},{"x":871,"y":2307.5,"e":2307,"c":"g"},{"x":871,"y":2306.75,"e":2306.75,"c":"b"},{"x":871,"y":2306.5,"e":2305.75,"c":"O"},{"x":871,"y":2305.5,"e":2305,"c":"r"},{"x":871,"y":2304.75,"e":2304.75,"c":"a"},{"x":871,"y":2304.5,"e":2304.5,"c":"o"},{"x":871,"y":2304.25,"e":2303.25,"c":"t"},
{"x":878,"y":2309,"e":2308.75,"c":"r"},{"x":878,"y":2308.5,"e":2308.25,"c":"a"},{"x":878,"y":2308,"e":2307.75,"c":"r"},{"x":878,"y":2307.5,"e":2307.5,"c":"n"},{"x":878,"y":2307.25,"e":2307,"c":"k"},{"x":878,"y":2306.75,"e":2306.75,"c":"B"},{"x":878,"y":2306.5,"e":2305.75,"c":"b"},{"x":878,"y":2305.5,"e":2305.5,"c":"O"},{"x":878,"y":2305.25,"e":2304.75,"c":"t"},{"x":878,"y":2304.5,"e":2304.5,"c":"p"},{"x":878,"y":2304.25,"e":2303.25,"c":"n"},
{"x":885,"y":2308.75,"e":2308.25,"c":"r"},{"x":885,"y":2308,"e":2307.75,"c":"O"},{"x":885,"y":2307.5,"e":2307.5,"c":"o"},{"x":885,"y":2307.25,"e":2307,"c":"t"},{"x":885,"y":2306.75,"e":2306.75,"c":"g"},{"x":885,"y":2306.5,"e":2306.5,"c":"B"},{"x":885,"y":2306.25,"e":2306.25,"c":"t"},{"x":885,"y":2306,"e":2306,"c":"m"},{"x":885,"y":2305.75,"e":2305.75,"c":"k"},{"x":885,"y":2305.5,"e":2305.5,"c":"t"},{"x":885,"y":2305.25,"e":2305.25,"c":"m"},{"x":885,"y":2304.5,"e":2304.5,"c":"d"},{"x":885,"y":2304.25,"e":2303.75,"c":"o"},{"x":885,"y":2303.5,"e":2303.25,"c":"p"},
{"x":892,"y":2308.5,"e":2308.5,"c":"r"},{"x":892,"y":2308.25,"e":2308,"c":"a"},{"x":892,"y":2307.75,"e":2307.75,"c":"b"},{"x":892,"y":2307.5,"e":2307.5,"c":"p"},{"x":892,"y":2307.25,"e":2307,"c":"m"},{"x":892,"y":2306.75,"e":2306.75,"c":"k"},{"x":892,"y":2306.5,"e":2306.5,"c":"g"},{"x":892,"y":2306.25,"e":2306.25,"c":"B"},{"x":892,"y":2306,"e":2306,"c":"b"},{"x":892,"y":2305.75,"e":2305.75,"c":"t"},{"x":892,"y":2305.5,"e":2305.5,"c":"m"},{"x":892,"y":2305.25,"e":2305.25,"c":"n"},{"x":892,"y":2304.5,"e":2304.5,"c":"a"},{"x":892,"y":2304.25,"e":2303.75,"c":"p"},{"x":892,"y":2303.5,"e":2303.25,"c":"d"},
{"x":899,"y":2308.25,"e":2308,"c":"r"},{"x":899,"y":2307.75,"e":2307.75,"c":"g"},{"x":899,"y":2307.5,"e":2307.5,"c":"m"},{"x":899,"y":2307.25,"e":2307,"c":"n"},{"x":899,"y":2306.75,"e":2306.75,"c":"t"},{"x":899,"y":2306.5,"e":2306.5,"c":"k"},{"x":899,"y":2306.25,"e":2306.25,"c":"n"},{"x":899,"y":2306,"e":2306,"c":"g"},{"x":899,"y":2305.75,"e":2305.75,"c":"m"},{"x":899,"y":2305.5,"e":2305.5,"c":"n"},{"x":899,"y":2304.25,"e":2303.75,"c":"d"},
{"x":906,"y":2308.25,"e":2308.25,"c":"r"},{"x":906,"y":2307.75,"e":2307.75,"c":"a"},{"x":906,"y":2307.5,"e":2307.5,"c":"r"},{"x":906,"y":2307.25,"e":2307,"c":"o"},{"x":906,"y":2306.75,"e":2306.75,"c":"n"},{"x":906,"y":2306.5,"e":2306.5,"c":"t"},{"x":906,"y":2306.25,"e":2306,"c":"k"},{"x":906,"y":2305.75,"e":2305.75,"c":"n"},{"x":906,"y":2304.25,"e":2303.75,"c":"a"},
{"x":913,"y":2307.5,"e":2307.5,"c":"O"},{"x":913,"y":2307.25,"e":2307,"c":"r"},{"x":913,"y":2306.75,"e":2306.75,"c":"O"},{"x":913,"y":2306.5,"e":2306.5,"c":"m"},{"x":913,"y":2306.25,"e":2306.25,"c":"b"},{"x":913,"y":2306,"e":2306,"c":"t"},
{"x":920,"y":2307.5,"e":2307.5,"c":"b"},{"x":920,"y":2307.25,"e":2307,"c":"O"},{"x":920,"y":2306.75,"e":2306.75,"c":"b"},{"x":920,"y":2306.5,"e":2306.5,"c":"n"},{"x":920,"y":2306.25,"e":2306.25,"c":"B"},{"x":920,"y":2306,"e":2306,"c":"m"},
{"x":927,"y":2307.5,"e":2307.5,"c":"B"},{"x":927,"y":2307.25,"e":2307,"c":"b"},{"x":927,"y":2306.75,"e":2306.75,"c":"B"},{"x":927,"y":2306.5,"e":2306.5,"c":"O"},{"x":927,"y":2306.25,"e":2306.25,"c":"t"},{"x":927,"y":2306,"e":2306,"c":"n"},
{"x":934,"y":2307.5,"e":2307.5,"c":"g"},{"x":934,"y":2307.25,"e":2307,"c":"B"},{"x":934,"y":2306.75,"e":2306.75,"c":"g"},{"x":934,"y":2306.5,"e":2306.5,"c":"b"},{"x":934,"y":2306.25,"e":2306.25,"c":"m"},{"x":934,"y":2306,"e":2306,"c":"o"},
{"x":941,"y":2307.5,"e":2307.5,"c":"o"},{"x":941,"y":2307.25,"e":2307,"c":"g"},{"x":941,"y":2306.75,"e":2306.75,"c":"k"},{"x":941,"y":2306.5,"e":2306.5,"c":"B"},{"x":941,"y":2306.25,"e":2306.25,"c":"n"},
{"x":948,"y":2307.5,"e":2307.5,"c":"p"},{"x":948,"y":2307.25,"e":2307,"c":"k"},{"x":948,"y":2306.75,"e":2306.75,"c":"n"},{"x":948,"y":2306.5,"e":2306.5,"c":"g"},{"x":948,"y":2306.25,"e":2306.25,"c":"o"},
{"x":955,"y":2307.5,"e":2307.5,"c":"d"},{"x":955,"y":2307.25,"e":2306.75,"c":"o"},{"x":955,"y":2306.5,"e":2306.5,"c":"k"},{"x":955,"y":2306.25,"e":2306.25,"c":"p"},
{"x":962,"y":2307.5,"e":2307.5,"c":"a"},{"x":962,"y":2307.25,"e":2306.75,"c":"p"},{"x":962,"y":2306.5,"e":2306.5,"c":"n"},{"x":962,"y":2306.25,"e":2306.25,"c":"a"},
{"x":969,"y":2307.25,"e":2306.75,"c":"d"},{"x":969,"y":2306.5,"e":2306.5,"c":"o"},{"x":969,"y":2306.25,"e":2306.25,"c":"a"},
{"x":976,"y":2307.25,"e":2306.75,"c":"a"},{"x":976,"y":2306.5,"e":2306.5,"c":"p"},{"x":983,"y":2306.75,"e":2306.75,"c":"a"},{"x":983,"y":2306.5,"e":2306.5,"c":"d"},{"x":990,"y":2306.5,"e":2306.5,"c":"a"},
{"x":1029,"y":2310,"e":2308.25,"c":"k"},{"x":1029,"y":2308,"e":2308,"c":"r"},{"x":1029,"y":2307.75,"e":2306.75,"c":"k"},{"x":1036,"y":2309.5,"e":2307,"c":"t"},{"x":1043,"y":2311.5,"e":2308.5,"c":"m"},{"x":1050,"y":2310.5,"e":2308.5,"c":"n"},{"x":1057,"y":2310.5,"e":2308.5,"c":"o"},{"x":1064,"y":2312,"e":2309.5,"c":"p"},{"x":1071,"y":2313.5,"e":2311.5,"c":"d"},{"x":1078,"y":2314.75,"e":2312.25,"c":"a"},{"x":1085,"y":2315.75,"e":2313,"c":"r"},{"x":1092,"y":2315,"e":2313,"c":"O"},{"x":1099,"y":2314.5,"e":2311.75,"c":"b"},{"x":1106,"y":2313.75,"e":2312,"c":"B"},{"x":1113,"y":2314.25,"e":2313,"c":"g"},{"x":1113,"y":2312.75,"e":2312.75,"c":"r"},{"x":1113,"y":2312.5,"e":2312,"c":"g"},
{"x":1152,"y":2318,"e":2315.75,"c":"b"},{"x":1152,"y":2315.5,"e":2314.5,"c":"n"},{"x":1152,"y":2314.25,"e":2314.25,"c":"r"},{"x":1152,"y":2314,"e":2313.25,"c":"n"},
{"x":1159,"y":2318,"e":2317.25,"c":"B"},{"x":1159,"y":2317,"e":2317,"c":"g"},{"x":1159,"y":2316.75,"e":2316.5,"c":"k"},{"x":1159,"y":2316.25,"e":2316.25,"c":"t"},{"x":1159,"y":2316,"e":2315.75,"c":"m"},{"x":1159,"y":2315.5,"e":2314,"c":"o"},{"x":1159,"y":2313.75,"e":2313.5,"c":"d"},
{"x":1166,"y":2318,"e":2317.25,"c":"g"},{"x":1166,"y":2317,"e":2317,"c":"k"},{"x":1166,"y":2316.75,"e":2316.5,"c":"t"},{"x":1166,"y":2316.25,"e":2316.25,"c":"m"},{"x":1166,"y":2316,"e":2315.75,"c":"n"},{"x":1166,"y":2315.5,"e":2314.25,"c":"p"},{"x":1166,"y":2314,"e":2314,"c":"d"},{"x":1166,"y":2313.75,"e":2313.5,"c":"a"},
{"x":1173,"y":2317.25,"e":2317.25,"c":"k"},{"x":1173,"y":2316.5,"e":2316.5,"c":"m"},{"x":1173,"y":2316.25,"e":2316.25,"c":"n"},{"x":1173,"y":2316,"e":2315.75,"c":"r"},{"x":1173,"y":2315.5,"e":2315,"c":"d"},{"x":1173,"y":2314.75,"e":2314.75,"c":"r"},{"x":1173,"y":2314.5,"e":2314.25,"c":"d"},{"x":1173,"y":2314,"e":2314,"c":"a"},{"x":1173,"y":2313.75,"e":2313.75,"c":"O"},{"x":1173,"y":2313.5,"e":2313.5,"c":"o"},
{"x":1180,"y":2316.5,"e":2316.5,"c":"n"},{"x":1180,"y":2316.25,"e":2315.75,"c":"O"},{"x":1180,"y":2315.5,"e":2315.5,"c":"b"},{"x":1180,"y":2315.25,"e":2314.75,"c":"O"},{"x":1180,"y":2314.5,"e":2314.25,"c":"a"},{"x":1180,"y":2314,"e":2314,"c":"r"},{"x":1180,"y":2313.75,"e":2313.75,"c":"o"},{"x":1180,"y":2313.5,"e":2313.5,"c":"d"},
{"x":1187,"y":2316,"e":2315.75,"c":"b"},{"x":1187,"y":2315.5,"e":2315.5,"c":"n"},{"x":1187,"y":2315.25,"e":2315,"c":"b"},{"x":1187,"y":2314.75,"e":2314.75,"c":"d"},{"x":1187,"y":2314.5,"e":2314.25,"c":"r"},{"x":1187,"y":2314,"e":2314,"c":"O"},{"x":1187,"y":2313.75,"e":2313.75,"c":"d"},
{"x":1194,"y":2316,"e":2315.75,"c":"g"},{"x":1194,"y":2315.5,"e":2315.5,"c":"o"},{"x":1194,"y":2315.25,"e":2314.75,"c":"n"},{"x":1194,"y":2314.5,"e":2314.25,"c":"O"},{"x":1194,"y":2314,"e":2314,"c":"o"},{"x":1194,"y":2313.75,"e":2313.75,"c":"a"},
{"x":1201,"y":2315.75,"e":2315.75,"c":"k"},{"x":1201,"y":2315.5,"e":2315.5,"c":"a"},{"x":1201,"y":2315.25,"e":2315,"c":"o"},{"x":1201,"y":2314.75,"e":2314.75,"c":"p"},{"x":1201,"y":2314.5,"e":2314.25,"c":"o"},{"x":1201,"y":2314,"e":2314,"c":"p"},
{"x":1208,"y":2315.5,"e":2315.5,"c":"r"},{"x":1208,"y":2315.25,"e":2314.75,"c":"a"},{"x":1208,"y":2314.5,"e":2314.25,"c":"p"},{"x":1208,"y":2314,"e":2314,"c":"d"},
{"x":1215,"y":2315.5,"e":2315.5,"c":"O"},{"x":1215,"y":2315.25,"e":2314.75,"c":"r"},{"x":1215,"y":2314.5,"e":2314.5,"c":"a"},{"x":1215,"y":2314.25,"e":2314.25,"c":"d"},{"x":1215,"y":2314,"e":2314,"c":"a"},
{"x":1222,"y":2315.5,"e":2315.5,"c":"b"},{"x":1222,"y":2315.25,"e":2314.75,"c":"O"},{"x":1222,"y":2314.5,"e":2314.5,"c":"r"},{"x":1222,"y":2314.25,"e":2314.25,"c":"a"},
{"x":1229,"y":2315.5,"e":2315.5,"c":"B"},{"x":1229,"y":2315.25,"e":2314.75,"c":"b"},{"x":1229,"y":2314.5,"e":2314.5,"c":"g"},{"x":1229,"y":2314.25,"e":2314.25,"c":"r"},
{"x":1236,"y":2315.5,"e":2315.5,"c":"g"},{"x":1236,"y":2315.25,"e":2314.75,"c":"B"},{"x":1236,"y":2314.5,"e":2314.5,"c":"k"},{"x":1236,"y":2314.25,"e":2314.25,"c":"t"},
{"x":1243,"y":2315.5,"e":2315.5,"c":"k"},{"x":1243,"y":2315.25,"e":2314.75,"c":"g"},{"x":1243,"y":2314.5,"e":2314.5,"c":"t"},
{"x":1250,"y":2315.25,"e":2314.75,"c":"k"},{"x":1250,"y":2314.5,"e":2314.5,"c":"r"},{"x":1257,"y":2315,"e":2314.75,"c":"t"}],
"blk":[{"x":12,"y":2294.25,"e":2287.25},{"x":100,"y":2289.5,"e":2285.5},{"x":280,"y":2294.25,"e":2286.85},{"x":374,"y":2292,"e":2285.9},{"x":509,"y":2288.75,"e":2284.25},{"x":599,"y":2291.75,"e":2285.25},{"x":751,"y":2294.25,"e":2289.7},{"x":839,"y":2306.5,"e":2299.25},{"x":1004,"y":2308.75,"e":2306},{"x":1127,"y":2315,"e":2309.5},{"x":1271,"y":2316,"e":2314}],
"mag":[{"x":10,"y":2293.5,"e":2288.5},{"x":98,"y":2290.5,"e":2285.75},{"x":278,"y":2290.25,"e":2284},{"x":372,"y":2292.5,"e":2286.75},{"x":507,"y":2289.25,"e":2285},{"x":597,"y":2291.5,"e":2286.25},{"x":749,"y":2292.25,"e":2288.5},{"x":837,"y":2308,"e":2301.75},{"x":1002,"y":2308.75,"e":2305.5},{"x":1125,"y":2315.25,"e":2309.5},{"x":1269,"y":2316.25,"e":2314}],
"blkt":[{"x":4,"x2":12,"y":2294.25},{"x":4,"x2":10,"y":2287.25},{"x":4,"x2":8,"y":2290.42},{"x":92,"x2":100,"y":2289.5},{"x":92,"x2":98,"y":2287},{"x":92,"x2":102,"y":2285.5},{"x":272,"x2":280,"y":2294.25},{"x":272,"x2":278,"y":2292},{"x":272,"x2":278,"y":2286.95},{"x":366,"x2":372,"y":2292},{"x":366,"x2":370,"y":2287.75},{"x":366,"x2":376,"y":2286},{"x":503,"x2":509,"y":2288.75},{"x":503,"x2":509,"y":2285.5},{"x":503,"x2":511,"y":2284.25},{"x":591,"x2":599,"y":2291.75},{"x":591,"x2":597,"y":2289.9},{"x":591,"x2":601,"y":2285.25},{"x":743,"x2":751,"y":2294.25},{"x":743,"x2":749,"y":2290.5},{"x":743,"x2":749,"y":2289.7},{"x":831,"x2":839,"y":2306.5},{"x":831,"x2":837,"y":2304.5},{"x":831,"x2":841,"y":2299.25},{"x":996,"x2":1002,"y":2307},{"x":996,"x2":1002,"y":2306},{"x":1119,"x2":1125,"y":2315},{"x":1119,"x2":1125,"y":2312.9},{"x":1263,"x2":1269,"y":2316},{"x":1263,"x2":1269,"y":2315}],
"magt":[{"x":2,"x2":10,"y":2293.5},{"x":2,"x2":10,"y":2288.5},{"x":90,"x2":98,"y":2290.5},{"x":90,"x2":98,"y":2285.75},{"x":270,"x2":278,"y":2290.25},{"x":270,"x2":278,"y":2284},{"x":364,"x2":372,"y":2292.5},{"x":364,"x2":372,"y":2286.75},{"x":501,"x2":507,"y":2289.25},{"x":501,"x2":507,"y":2285},{"x":589,"x2":597,"y":2291.5},{"x":589,"x2":597,"y":2286.25},{"x":741,"x2":749,"y":2292.25},{"x":741,"x2":749,"y":2288.5},{"x":829,"x2":837,"y":2308},{"x":829,"x2":837,"y":2301.75},{"x":994,"x2":1002,"y":2308.75},{"x":994,"x2":1002,"y":2305.5},{"x":1117,"x2":1125,"y":2315.25},{"x":1117,"x2":1125,"y":2309.5},{"x":1261,"x2":1269,"y":2316.25},{"x":1261,"x2":1269,"y":2314}],
"poc":[{"x":10,"y":2290.75},{"x":97.5,"y":2286.25},{"x":278,"y":2286},{"x":371.5,"y":2288.25},{"x":508.5,"y":2286},{"x":596.5,"y":2289.75},{"x":748.5,"y":2290.5},{"x":836.5,"y":2305.25},{"x":1001.5,"y":2306.5},{"x":1124.5,"y":2313},{"x":1268.5,"y":2315}]},
"encoding":{
"x":{"field":"x","type":"quantitative","scale":{"domain":[0,1300],"range":[0,1300],"nice":false,"zero":false},"axis":{"title":null,"grid":false,"ticks":false,"domain":true,"domainColor":"#000","domainWidth":1,"labelColor":"#000","labelFont":"Liberation Sans","labelFontSize":11,"labelPadding":3,"labelOverlap":false,"labelFlush":false,"values":[49,138,316,411,548,637,788,877,1042,1163],"labelExpr":"datum.value<140?'02/07':datum.value<420?'02/08':datum.value<640?'02/09':datum.value<880?'02/10':datum.value<1100?'02/11':'02/13'"}},
"y":{"field":"y","type":"quantitative","scale":{"domain":[2279.7643,2319.75],"range":[933,0],"nice":false,"zero":false},"axis":{"title":null,"orient":"right","grid":false,"domain":false,"tickColor":"#000","tickSize":6,"tickWidth":1,"labelColor":"#000","labelFont":"Liberation Sans","labelFontSize":11,"labelPadding":1,"labelOverlap":false,"format":".2f","values":[2280,2282,2284,2286,2288,2290,2292,2294,2296,2298,2300,2302,2304,2306,2308,2310,2312,2314,2316,2318]}}},
"layer":[
{"data":{"name":"grid"},"mark":{"type":"rule","color":"#b29ea6","strokeWidth":1},"encoding":{"x2":{"field":"x2"}}},
{"data":{"name":"vgrid"},"mark":{"type":"rule","color":"#c2d4d6","strokeWidth":1},"encoding":{"y2":{"field":"e"}}},
{"data":{"name":"axisline"},"mark":{"type":"rule","color":"#000","strokeWidth":1},"encoding":{"y2":{"field":"e"}}},
{"data":{"name":"lines"},"mark":{"type":"rule","color":"#000040","strokeWidth":1},"encoding":{"x2":{"field":"x2"}}},
{"data":{"name":"lines2"},"mark":{"type":"rule","color":"#000080","strokeWidth":1},"encoding":{"x2":{"field":"x2"}}},
{"data":{"name":"dash"},"mark":{"type":"rule","color":"#c6c8ff","strokeWidth":1,"strokeDash":[4,3]},"encoding":{"y2":{"field":"e"}}},
{"data":{"name":"rails"},"mark":{"type":"rule","strokeWidth":4},"encoding":{"y2":{"field":"e"},"color":{"field":"c","type":"nominal","legend":null,"scale":{"domain":["k","t","n","m","o","p","d","a","r","O","b","B","g","s","f","y"],"range":["#000000","#008B8B","#00008B","#8B0000","#FF8000","#800080","#B8860B","#696969","#FF0000","#808000","#0000FF","#A52A2A","#008000","#FFC4AE","#228B22","#FFFF00"]}}}},
{"data":{"name":"cells"},"mark":{"type":"rule","strokeWidth":6,"strokeDash":[5,0.8333],"yOffset":-3.2,"y2Offset":1.8},"encoding":{"y2":{"field":"e"},"color":{"field":"c","type":"nominal","legend":null,"scale":{"domain":["k","t","n","m","o","p","d","a","r","O","b","B","g","s","f","y"],"range":["#000000","#008B8B","#00008B","#8B0000","#FF8000","#800080","#B8860B","#696969","#FF0000","#808000","#0000FF","#A52A2A","#008000","#FFC4AE","#228B22","#FFFF00"]}}}},
{"data":{"name":"blk"},"mark":{"type":"rule","color":"#000","strokeWidth":4},"encoding":{"y2":{"field":"e"}}},
{"data":{"name":"blkt"},"mark":{"type":"rule","color":"#000","strokeWidth":2},"encoding":{"x2":{"field":"x2"}}},
{"data":{"name":"mag"},"mark":{"type":"rule","color":"#FF00FF","strokeWidth":4},"encoding":{"y2":{"field":"e"}}},
{"data":{"name":"magt"},"mark":{"type":"rule","color":"#FF00FF","strokeWidth":2},"encoding":{"x2":{"field":"x2"}}},
{"data":{"name":"poc"},"mark":{"type":"point","shape":"square","size":30,"filled":true,"fill":"#e4f8f8","stroke":"#000","strokeWidth":2.5,"opacity":1}},
{"data":{"values":[{"x":1306,"x2":1348,"y":2314.86,"e":2314.26}]},"mark":{"type":"rect","fill":"#3c3c3c","stroke":"#000","strokeWidth":1},"encoding":{"x2":{"field":"x2"},"y2":{"field":"e"}}},
{"data":{"values":[{"x":1306,"y":2314.56}]},"mark":{"type":"point","shape":"triangle-left","size":196,"filled":true,"fill":"#3c3c3c","opacity":1}},
{"data":{"values":[{"x":1327,"y":2314.56,"t":"2314.50"}]},"mark":{"type":"text","color":"#fff","font":"Liberation Sans","fontSize":11,"align":"center","baseline":"middle"},"encoding":{"text":{"field":"t"}}},
{"data":{"values":[{"x":1276.5,"y":2318.87}]},"mark":{"type":"point","shape":"triangle-right","size":441,"filled":false,"stroke":"#000","strokeWidth":1,"opacity":1}},
{"data":{"values":[{"x":1286.5,"x2":1290,"y":2319.32,"e":2318.42},{"x":1346.5,"x2":1359,"y":2319.62,"e":2319.1}]},"mark":{"type":"rect","fill":null,"stroke":"#000","strokeWidth":1},"encoding":{"x2":{"field":"x2"},"y2":{"field":"e"}}},
{"data":{"values":[{"x":1352.5,"y":2319.36,"t":"F"}]},"mark":{"type":"text","color":"#000","font":"Liberation Sans","fontSize":10,"align":"center","baseline":"middle"},"encoding":{"text":{"field":"t"}}},
{"data":{"values":[{"x":6,"y":2319.23,"t":"TPO and Volume Profile Chart (v4)"}]},"mark":{"type":"text","color":"#000","font":"Liberation Sans","fontSize":11,"align":"left","baseline":"middle"},"encoding":{"text":{"field":"t"}}},
{"data":{"values":[{"x":2,"y":2280,"t":"© 2017 NinjaTrader, LLC"}]},"mark":{"type":"text","color":"#000","font":"Liberation Sans","fontSize":11.5,"align":"left","baseline":"middle"},"encoding":{"text":{"field":"t"}}},
{"data":{"values":[{"x":3,"y":2278.88,"t":"Final - www.fin-alg.com"}]},"mark":{"type":"text","color":"#1E78C8","font":"Liberation Sans","fontSize":11.5,"align":"left","baseline":"middle"},"encoding":{"text":{"field":"t"}}}
]}
